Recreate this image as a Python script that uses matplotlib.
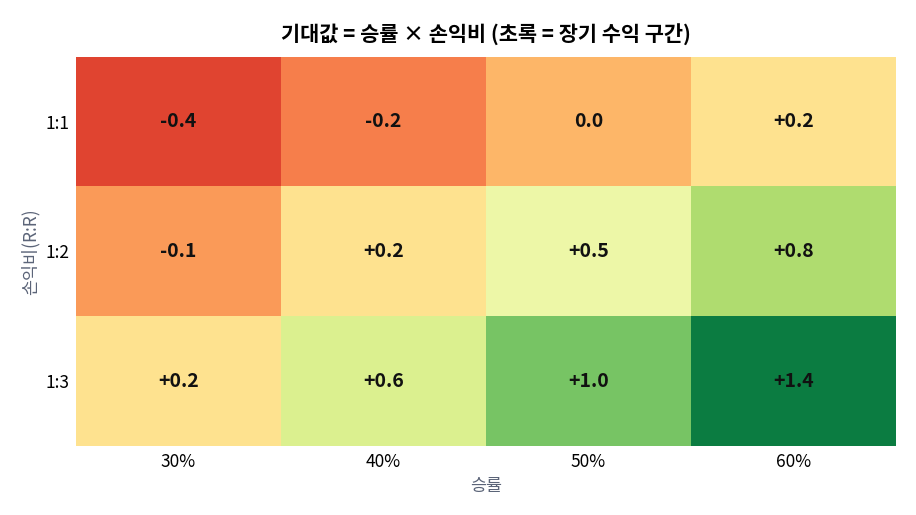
import matplotlib
matplotlib.use("Agg")
import matplotlib.pyplot as plt
import numpy as np

plt.rcParams['font.family'] = ['Noto Sans CJK KR', 'DejaVu Sans']

win_rates = ["30%", "40%", "50%", "60%"]
rr_labels = ["1:1", "1:2", "1:3"]
ev_11 = [-0.4, -0.2, 0.0, 0.2]
ev_12 = [-0.1, 0.2, 0.5, 0.8]
ev_13 = [0.2, 0.6, 1.0, 1.4]

data = np.array([ev_11, ev_12, ev_13])

fig = plt.figure(figsize=(9.16, 5.15), dpi=100)
ax = fig.add_axes([76/916, 1-446/515, 820/916, 389/515])
ax.imshow(data, cmap="RdYlGn", vmin=-0.7, vmax=1.5, aspect="auto")
for i in range(data.shape[0]):
    for j in range(data.shape[1]):
        v = data[i, j]
        s = f"{v:+.1f}" if abs(v) > 1e-9 else "0.0"
        ax.text(j, i, s, ha="center", va="center", fontsize=14, fontweight="bold", color="#111111")

ax.set_xticks(range(len(win_rates)))
ax.set_xticklabels(win_rates, fontsize=12.5)
ax.set_yticks(range(len(rr_labels)))
ax.set_yticklabels(rr_labels, fontsize=12.5)
ax.tick_params(length=0, pad=5)
for sp in ax.spines.values():
    sp.set_visible(False)
ax.set_xlabel("승률", fontsize=12.5, color="#5b6478", labelpad=4)
ax.set_ylabel("손익비(R:R)", fontsize=12.5, color="#5b6478", labelpad=4)
ax.set_title("기대값 = 승률 × 손익비 (초록 = 장기 수익 구간)", fontsize=15, fontweight="bold", pad=11)

fig.savefig("out.png", dpi=100)
